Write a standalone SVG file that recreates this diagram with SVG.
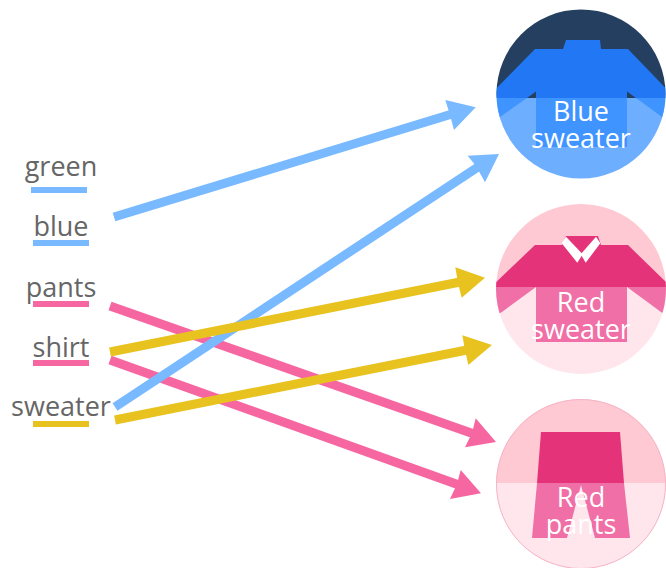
<svg xmlns="http://www.w3.org/2000/svg" width="666" height="568" viewBox="0 0 666 568">
<style>
.lbl{font-family:"Open Sans","Noto Sans",sans-serif;font-size:27px;fill:#666;text-anchor:middle}
.cap{font-family:"Open Sans","Noto Sans",sans-serif;font-size:27px;fill:#fff;text-anchor:middle}
.b{stroke:#78b9ff}.p{stroke:#f667a2}.y{stroke:#e8c31f}
.c{fill:none;stroke-width:9}
.ub{fill:#78b9ff}.up{fill:#f667a2}.uy{fill:#e8c31f}
</style>
<defs>
<clipPath id="c1"><circle cx="581" cy="94" r="84.5"/></clipPath>
<clipPath id="c2"><circle cx="581" cy="289" r="85"/></clipPath>
<clipPath id="c3"><circle cx="581" cy="484" r="85"/></clipPath>
</defs>
<g id="connectors">
<line class="c p" x1="110" y1="306" x2="474" y2="434"/><polygon fill="#f667a2" points="475.7,418.3 496,442 465,447.3 472,433"/>
<line class="c p" x1="110" y1="360" x2="459" y2="485"/><polygon fill="#f667a2" points="460.7,470 481,493.3 450,499 457,484"/>
<line class="c b" x1="115" y1="407" x2="478" y2="167"/><polygon fill="#78b9ff" points="467.7,155.7 499,154 485,182.3 476,166"/>
<line class="c b" x1="114" y1="217" x2="452" y2="114"/><polygon fill="#78b9ff" points="445.3,100 475.7,107.3 454,130 450,115"/>
<line class="c y" x1="110" y1="352" x2="460" y2="282"/><polygon fill="#e8c31f" points="455.3,267.3 485,277.7 461.7,297.7 458,283"/>
<line class="c y" x1="115" y1="420" x2="467" y2="350"/><polygon fill="#e8c31f" points="462.3,335.3 492,345 468.3,365 465,350"/>
</g>
<g id="green"><text class="lbl" x="61" y="176">green</text><rect class="ub" x="31" y="187" width="56" height="6"/></g>
<g id="blue"><text class="lbl" x="61" y="236">blue</text><rect class="ub" x="33" y="240" width="56" height="6"/></g>
<g id="pants"><text class="lbl" x="61" y="297">pants</text><rect class="up" x="33" y="301" width="56" height="6"/></g>
<g id="shirt"><text class="lbl" x="61" y="357">shirt</text><rect class="up" x="33" y="360" width="56" height="6"/></g>
<g id="sweater"><text class="lbl" x="61" y="416">sweater</text><rect class="uy" x="33" y="421" width="56" height="6"/></g>
<g id="blue-sweater">
<g clip-path="url(#c1)">
<rect x="490" y="0" width="180" height="98" fill="#243f5f"/>
<rect x="490" y="98" width="180" height="90" fill="#6eaeff"/>
<polygon fill="#2277f5" points="535,49 563,49 566,40 600,40 601,49 628,49 675,98 636,98 627,91.5 627,98 536,98 536,91.5 527,98 487,98"/>
<polygon fill="#4094ff" points="490,98 527,98 500,117 490,122"/>
<polygon fill="#4094ff" points="636,98 672,98 672,122 662,117"/>
<rect x="536" y="98" width="91" height="49" fill="#4094ff"/>
</g>
<text class="cap" x="581" y="121">Blue</text><text class="cap" x="581" y="148">sweater</text>
</g>
<g id="red-sweater">
<g clip-path="url(#c2)">
<rect x="490" y="200" width="180" height="87" fill="#ffc9d3"/>
<rect x="490" y="287" width="180" height="90" fill="#ffe6ec"/>
<polygon fill="#e5337a" points="535,245 562,245 566,236 598,236 601,245 628,245 671,287 491,287"/>
<polygon fill="#f06fa6" points="490,287 536,287 502,312 490,318"/>
<polygon fill="#f06fa6" points="627,287 672,287 672,318 661,312"/>
<rect x="536" y="287" width="91" height="55" fill="#f06fa6"/>
<polygon fill="#fff" points="561.7,243.3 566,236.7 582.7,254.3 577.3,262.7"/>
<polygon fill="#fff" points="585.7,262.7 580.7,254.3 596,236.7 600.3,243.3"/>
</g>
<text class="cap" x="581" y="312">Red</text><text class="cap" x="581" y="339">sweater</text>
</g>
<g id="red-pants">
<g clip-path="url(#c3)">
<rect x="490" y="395" width="180" height="88" fill="#ffc9d3"/>
<rect x="490" y="483" width="180" height="90" fill="#ffe6ec"/>
<polygon fill="#e5337a" points="541,432 620,432 624,483 537,483"/>
<polygon fill="#f06fa6" points="537,483 624,483 630,538 595,538 581,485 567,538 532,538"/>
</g>
<circle cx="581" cy="484" r="84.5" fill="none" stroke="#f5b5c8" stroke-width="1"/>
<text class="cap" x="581" y="507">Red</text><text class="cap" x="581" y="534">pants</text>
</g>
</svg>
